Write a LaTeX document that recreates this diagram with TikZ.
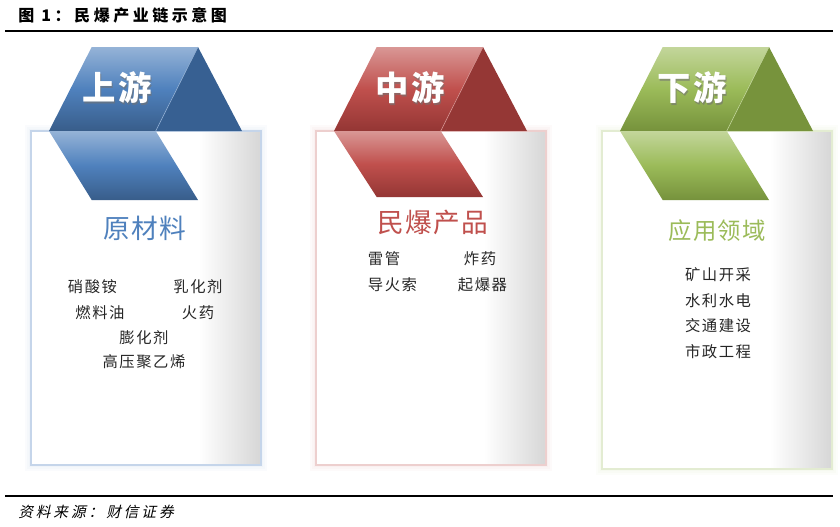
\documentclass[tikz,border=0pt]{standalone}
\usepackage{fontspec}
\setmainfont{Noto Sans CJK SC}
\newfontfamily\slantfont[FakeSlant=0.22,LetterSpace=20]{Noto Sans CJK SC}
\usepackage{xcolor}
\usetikzlibrary{positioning}
\definecolor{up-light}{HTML}{95B3D7}
\definecolor{up-mid}{HTML}{4F81BD}
\definecolor{up-dark}{HTML}{385D8A}
\definecolor{up-tri}{HTML}{376092}
\definecolor{up-edge}{HTML}{C5D5EA}
\definecolor{mid-light}{HTML}{D99795}
\definecolor{mid-mid}{HTML}{C0504D}
\definecolor{mid-dark}{HTML}{943634}
\definecolor{mid-tri}{HTML}{953735}
\definecolor{mid-edge}{HTML}{EDCFCE}
\definecolor{down-light}{HTML}{C3D69B}
\definecolor{down-mid}{HTML}{9BBB59}
\definecolor{down-dark}{HTML}{76923C}
\definecolor{down-tri}{HTML}{77933C}
\definecolor{down-edge}{HTML}{E3ECD2}
\tikzset{%
	rule/.style       = {line width=1.2pt, black},
	bannertext/.style = {text=white, font=\fontsize{25}{28}\selectfont\bfseries\addfontfeature{LetterSpace=8}},
	bannershade/.style= {text=black!55, opacity=0.6, font=\fontsize{25}{28}\selectfont\bfseries\addfontfeature{LetterSpace=8}},
	headtext/.style   = {font=\fontsize{20}{24}\selectfont\addfontfeature{LetterSpace=5}},
	item/.style       = {text=black!85, font=\fontsize{11.5}{14}\selectfont\addfontfeature{LetterSpace=10}},
}

\begin{document}
\begin{tikzpicture}[x=0.75pt,y=-0.75pt]
	\useasboundingbox (0,0) rectangle (840,526);
	% title and rules
	\node[anchor=west, inner sep=0, font=\fontsize{12}{14}\selectfont\bfseries\addfontfeature{LetterSpace=22}] (title) at (18,15) {图 1：民爆产业链示意图};
	\draw[rule] (5,31) -- (833,31);
	\draw[rule] (5,496) -- (833,496);
	\node[anchor=west, inner sep=0, font=\fontsize{11}{13}\slantfont] (source) at (18,512) {资料来源：财信证券};
	
	% the three stages
	\foreach \x/\c/\lab/\tx/\lo/\bb in {49/up/上游/117/200/465, 334/mid/中游/410/197/465, 620/down/下游/692/200/469} {
		\foreach \g in {9,6,3} \draw[\c-light, opacity=0.05, line width=\g] (\x-18,131) rectangle (\x+212,\bb);
		\fill[white] (\x-18,131) rectangle (\x+212,\bb);
		\shade[left color=white, right color=black!16] (\x+150,131) rectangle (\x+212,\bb);
		\draw[\c-edge, line width=0.8] (\x-18,131) rectangle (\x+212,\bb);
		\shade[top color=\c-light, bottom color=\c-dark, middle color=\c-mid] (\x+42.7,47) -- (\x+149,47) -- (\x+106.7,131) -- (\x,131) -- cycle;
		\fill[\c-tri] (\x+149,47) -- (\x+193,131) -- (\x+106.7,131) -- cycle;
		\draw[\c-light, line width=0.4] (\x+149,47) -- (\x+106.7,131);
		\shade[top color=\c-light, bottom color=\c-dark, middle color=\c-mid] (\x,131) -- (\x+106.7,131) -- (\x+149,\lo) -- (\x+42.7,\lo) -- cycle;
		\node[bannershade] at (\tx+1.5,89.5) {\lab};
		\node[bannertext] (\c) at (\tx,88) {\lab};
	}
	
	% upstream
	\node[headtext, text=up-mid] (upHead) at (145,228) {原材料};
	\node[item] (upA) at (92.5,286.5) {硝酸铵};
	\node[item] (upB) at (198,286.5) {乳化剂};
	\node[item] (upC) at (100,313) {燃料油};
	\node[item] (upD) at (198,313) {火药};
	\node[item] (upE) at (144,338) {膨化剂};
	\node[item] (upF) at (144,361.5) {高压聚乙烯};
	
	% midstream
	\node[headtext, text=mid-mid] (midHead) at (433,222) {民爆产品};
	\node[item] (midA) at (384,258.5) {雷管};
	\node[item] (midB) at (480,258.5) {炸药};
	\node[item] (midC) at (392.5,285) {导火索};
	\node[item] (midD) at (482.5,285) {起爆器};
	
	% downstream
	\node[headtext, text=down-mid, font=\fontsize{17.5}{21}\selectfont\addfontfeature{LetterSpace=5}] (downHead) at (717,231) {应用领域};
	\foreach \t [count=\i] in {矿山开采,水利水电,交通建设,市政工程}
		\node[item] (down\i) at (718,249.5+25.5*\i) {\t};
\end{tikzpicture}
\end{document}
